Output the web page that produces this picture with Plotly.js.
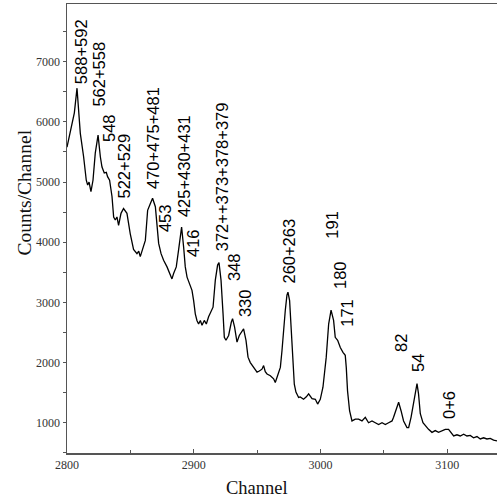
<!DOCTYPE html>
<html>
<head>
<meta charset="utf-8">
<script src="https://cdn.plot.ly/plotly-3.0.1.min.js"></script>
<style>html,body{margin:0;padding:0;background:#fff;}#chart{width:497px;height:498px;}</style>
</head>
<body>
<div id="chart"></div>
<script>
// Spectrum
var channel = [2800.0,2801.3,2803.9,2805.8,2807.9,2808.9,2810.5,2813.1,2815.2,2816.3,2817.4,2818.9,2820.5,2822.3,2824.5,2826.3,2827.6,2829.4,2831.0,2832.0,2833.6,2835.5,2836.8,2838.1,2839.4,2840.7,2842.6,2844.6,2847.3,2849.9,2852.5,2855.2,2856.6,2857.8,2859.2,2860.4,2861.8,2862.6,2863.6,2865.7,2867.5,2869.7,2871.0,2872.3,2874.2,2876.2,2878.9,2881.5,2882.8,2884.1,2886.2,2888.0,2889.4,2890.4,2892.0,2893.3,2894.7,2896.7,2898.6,2899.9,2901.2,2902.5,2903.8,2905.2,2906.5,2908.3,2909.9,2911.7,2913.0,2915.2,2917.0,2918.8,2919.9,2921.5,2923.1,2924.1,2925.4,2927.5,2929.6,2930.6,2932.2,2934.1,2935.9,2938.0,2939.3,2941.2,2942.8,2944.6,2947.2,2949.9,2951.7,2953.8,2955.1,2956.4,2957.8,2960.4,2963.0,2964.3,2966.1,2968.3,2969.6,2970.9,2972.2,2973.5,2974.3,2975.6,2976.9,2978.0,2979.3,2980.6,2982.7,2984.0,2986.6,2988.8,2990.6,2993.3,2995.9,2997.7,2999.8,3001.9,3004.5,3006.4,3008.3,3010.3,3011.6,3013.5,3015.6,3017.7,3019.5,3020.3,3021.3,3022.9,3024.8,3027.4,3030.0,3032.7,3035.3,3037.9,3040.6,3043.2,3045.8,3048.5,3051.1,3053.7,3056.4,3057.6,3059.8,3061.6,3063.5,3065.5,3068.2,3069.5,3071.4,3072.9,3074.7,3076.1,3077.3,3078.7,3080.8,3082.6,3085.2,3087.9,3090.5,3093.1,3095.8,3098.4,3101.0,3102.9,3105.0,3107.6,3110.2,3112.9,3115.5,3118.1,3120.7,3123.4,3126.0,3128.6,3131.3,3133.9,3136.5,3139.2];
var counts = [5580,5700,5920,6150,6560,6200,5810,5420,5030,4950,5000,4840,5030,5480,5780,5420,5250,5150,5160,5090,5030,4760,4420,4370,4420,4280,4480,4560,4480,4140,3880,3810,3850,3760,3870,3950,4030,4250,4530,4640,4730,4590,4310,3980,3810,3700,3590,3450,3390,3480,3590,3870,4150,4250,3920,3590,3420,3310,3200,3030,2810,2700,2640,2700,2620,2700,2640,2760,2810,2920,3370,3620,3660,3370,2810,2420,2370,2450,2670,2730,2590,2340,2450,2530,2560,2370,2090,2000,1920,1840,1860,1890,1950,1850,1810,1780,1730,1670,1780,1920,2200,2590,2870,3120,3170,3030,2590,2030,1640,1510,1420,1430,1390,1430,1480,1400,1390,1310,1390,1590,2090,2640,2870,2700,2420,2370,2250,2170,2120,1920,1530,1200,1030,1060,1060,1030,1090,1000,1030,1000,970,1000,970,1000,1030,1090,1230,1340,1200,1030,920,920,1090,1260,1530,1650,1480,1150,1000,950,890,840,870,840,870,890,890,840,780,800,780,810,780,790,750,770,730,750,730,740,710,700];

// Peak labels and where each label starts (channel, counts)
var peakLabels = ["588+592","562+558","548","522+529","470+475+481","453","425+430+431","416","372++373+378+379","348","330","260+263","191","180","171","82","54","0+6"];
var labelChannel = [2811.0,2825.5,2832.6,2845.2,2867.3,2876.8,2891.8,2898.8,2922.3,2931.2,2939.9,2975.4,3009.0,3014.8,3020.9,3062.9,3076.3,3100.8];
var labelCounts = [6618,6235,5654,4706,4873,4158,4407,3742,3826,3344,2745,3294,4042,3211,2579,2164,1832,1050];

var xTicks = [2800,2900,3000,3100];
var yTicks = [1000,2000,3000,4000,5000,6000,7000];

var trace = {
  x: channel, y: counts, type: 'scatter', mode: 'lines',
  line: {color: '#000', width: 1.3}, hoverinfo: 'skip'
};

var annotations = peakLabels.map(function(t, i) {
  return {
    text: t, x: labelChannel[i], y: labelCounts[i], xref: 'x', yref: 'y',
    textangle: -90, showarrow: false, xanchor: 'center', yanchor: 'bottom',
    borderpad: 0,
    font: {family: 'Liberation Sans, Arial, sans-serif', size: 16.5, color: '#000'}
  };
});
annotations.push({
  text: 'Counts/Channel', xref: 'paper', yref: 'paper', x: -0.101, y: 0.579,
  textangle: -90, showarrow: false, xanchor: 'center', yanchor: 'middle',
  font: {family: 'Liberation Serif, Times New Roman, serif', size: 19.5, color: '#111'}
});
annotations.push({
  text: 'Channel', xref: 'paper', yref: 'paper', x: 0.442, y: -0.077,
  showarrow: false, xanchor: 'center', yanchor: 'middle',
  font: {family: 'Liberation Serif, Times New Roman, serif', size: 18.5, color: '#111'}
});

var layout = {
  width: 497, height: 498,
  margin: {l: 67, r: 0, t: 4, b: 45, pad: 0},
  paper_bgcolor: '#fff', plot_bgcolor: '#fff',
  showlegend: false,
  xaxis: {
    range: [2800, 3139.2], tickvals: xTicks, ticktext: xTicks.map(String),
    ticks: 'inside', ticklen: 4, tickwidth: 1, tickcolor: '#555',
    minor: {dtick: 50, tick0: 2800, ticks: 'inside', ticklen: 3, tickcolor: '#555', showgrid: false},
    showline: true, linecolor: '#555', linewidth: 1.5, mirror: true,
    showgrid: false, zeroline: false,
    tickfont: {family: 'Liberation Serif, Times New Roman, serif', size: 12, color: '#333'}
  },
  yaxis: {
    range: [497, 7959], tickvals: yTicks, ticktext: yTicks.map(String),
    ticks: 'outside', ticklen: 3, tickwidth: 1, tickcolor: '#555',
    minor: {dtick: 500, tick0: 0, ticks: 'outside', ticklen: 3, tickcolor: '#555', showgrid: false},
    showline: true, linecolor: '#555', linewidth: 1.5, mirror: false,
    showgrid: false, zeroline: false,
    tickfont: {family: 'Liberation Serif, Times New Roman, serif', size: 12, color: '#333'}
  },
  annotations: annotations
};

Plotly.newPlot('chart', [trace], layout, {displayModeBar: false, staticPlot: true});
</script>
</body>
</html>
